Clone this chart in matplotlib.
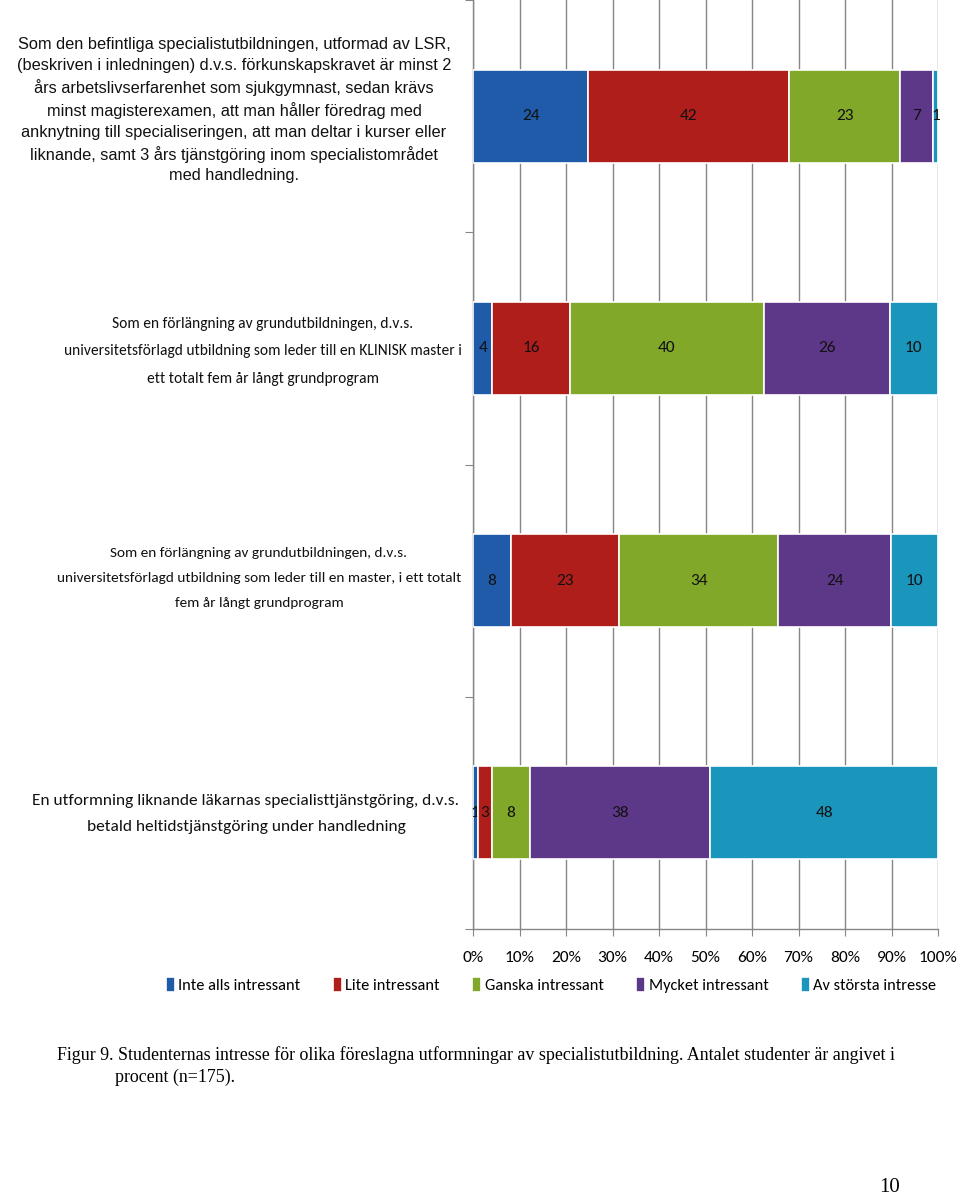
import matplotlib
matplotlib.use("Agg")
import matplotlib.pyplot as plt
from matplotlib import font_manager
from matplotlib.transforms import blended_transform_factory
import numpy as np

categories = [
    "Som den befintliga specialistutbildningen, utformad av LSR,\n(beskriven i inledningen) d.v.s. förkunskapskravet är minst 2\nårs arbetslivserfarenhet som sjukgymnast, sedan krävs\nminst magisterexamen, att man håller föredrag med\nanknytning till specialiseringen, att man deltar i kurser eller\nliknande, samt 3 års tjänstgöring inom specialistområdet\nmed handledning.",
    "Som en förlängning av grundutbildningen, d.v.s.\nuniversitetsförlagd utbildning som leder till en KLINISK master i\nett totalt fem år långt grundprogram",
    "Som en förlängning av grundutbildningen, d.v.s.\nuniversitetsförlagd utbildning som leder till en master, i ett totalt\nfem år långt grundprogram",
    "En utformning liknande läkarnas specialisttjänstgöring, d.v.s.\nbetald heltidstjänstgöring under handledning",
]
series_names = ["Inte alls intressant", "Lite intressant", "Ganska intressant",
                "Mycket intressant", "Av största intresse"]
inte_alls = [24, 4, 8, 1]
lite = [42, 16, 23, 3]
ganska = [23, 40, 34, 8]
mycket = [7, 26, 24, 38]
storsta = [1, 10, 10, 48]
x_ticklabels = ["0%", "10%", "20%", "30%", "40%", "50%", "60%", "70%", "80%", "90%", "100%"]
caption = ("Figur 9. Studenternas intresse för olika föreslagna utformningar av specialistutbildning. Antalet studenter är angivet i",
           "procent (n=175).")
page_number = "10"

colors = ["#1F5BA8", "#B01E1C", "#82A829", "#5E3888", "#1A96BD"]

available = {f.name for f in font_manager.fontManager.ttflist}
narrow = next((f for f in ["Carlito", "Liberation Sans Narrow", "Roboto Condensed",
                           "Open Sans Condensed", "Lato"] if f in available), "DejaVu Sans")
sans = "Liberation Sans"
serif = "Liberation Serif"

fig = plt.figure(figsize=(9.6, 11.97), dpi=100)
W, H = 960, 1197
ax = fig.add_axes([473 / W, 1 - 929 / H, (938 - 473) / W, 929 / H])

data = np.array([inte_alls, lite, ganska, mycket, storsta], dtype=float)
totals = data.sum(axis=0)
pct = data / totals * 100
y = np.arange(len(categories))
left = np.zeros(len(categories))
for i, name in enumerate(series_names):
    bars = ax.barh(y, pct[i], left=left, height=0.4, color=colors[i],
                   edgecolor="white", linewidth=1.2, label=name, zorder=3)
    ax.bar_label(bars, labels=[f"{int(v)}" for v in data[i]], label_type="center",
                 fontsize=12.5, color="#111111", family=[narrow, "DejaVu Sans"])
    left += pct[i]

ax.set_xlim(0, 100)
ax.set_ylim(len(categories) - 0.5, -0.5)
ax.set_xticks(np.arange(0, 101, 10))
ax.set_xticklabels(x_ticklabels, family=[narrow, "DejaVu Sans"], fontsize=12.5)
ax.set_yticks(np.arange(-0.5, len(categories), 1.0))
ax.set_yticklabels([])
ax.tick_params(axis="x", length=5, color="#868686", pad=11)
ax.tick_params(axis="y", length=6, color="#868686", direction="out")
ax.grid(axis="x", color="#868686", linewidth=1.0, zorder=0)
ax.set_axisbelow(True)
for s in ["top", "right"]:
    ax.spines[s].set_visible(False)
for s in ["left", "bottom"]:
    ax.spines[s].set_color("#868686")
    ax.spines[s].set_linewidth(1.0)

trans = blended_transform_factory(fig.transFigure, ax.transData)
label_x = [234 / W, 263 / W, 259 / W, 246 / W]
label_dy = [-0.025, 0.012, -0.01, 0.006]
label_fs = [11.8, 11.2, 11.0, 12.5]
label_ls = [1.45, 2.22, 2.3, 2.1]
for i, lab in enumerate(categories):
    fam = [sans, "DejaVu Sans"] if i == 0 else [narrow, "DejaVu Sans"]
    ax.text(label_x[i], y[i] + label_dy[i], lab, transform=trans, ha="center", va="center",
            family=fam, fontsize=label_fs[i], linespacing=label_ls[i], color="#111111")

fig.legend(loc="center", bbox_to_anchor=(551 / W, 1 - 985 / H), ncol=5, frameon=False,
           prop={"family": [narrow, "DejaVu Sans"], "size": 11.8},
           handlelength=0.55, handleheight=1.0, handletextpad=0.2, columnspacing=2.0)

fig.text(57 / W, 1 - 1055 / H, caption[0], family=[serif, "DejaVu Serif"], fontsize=12.9,
         va="center", ha="left")
fig.text(115 / W, 1 - 1077 / H, caption[1], family=[serif, "DejaVu Serif"], fontsize=12.9,
         va="center", ha="left")
fig.text(890 / W, 1 - 1187 / H, page_number, family=[serif, "DejaVu Serif"], fontsize=15,
         va="center", ha="center")

fig.savefig("out.png", dpi=100, facecolor="white")
